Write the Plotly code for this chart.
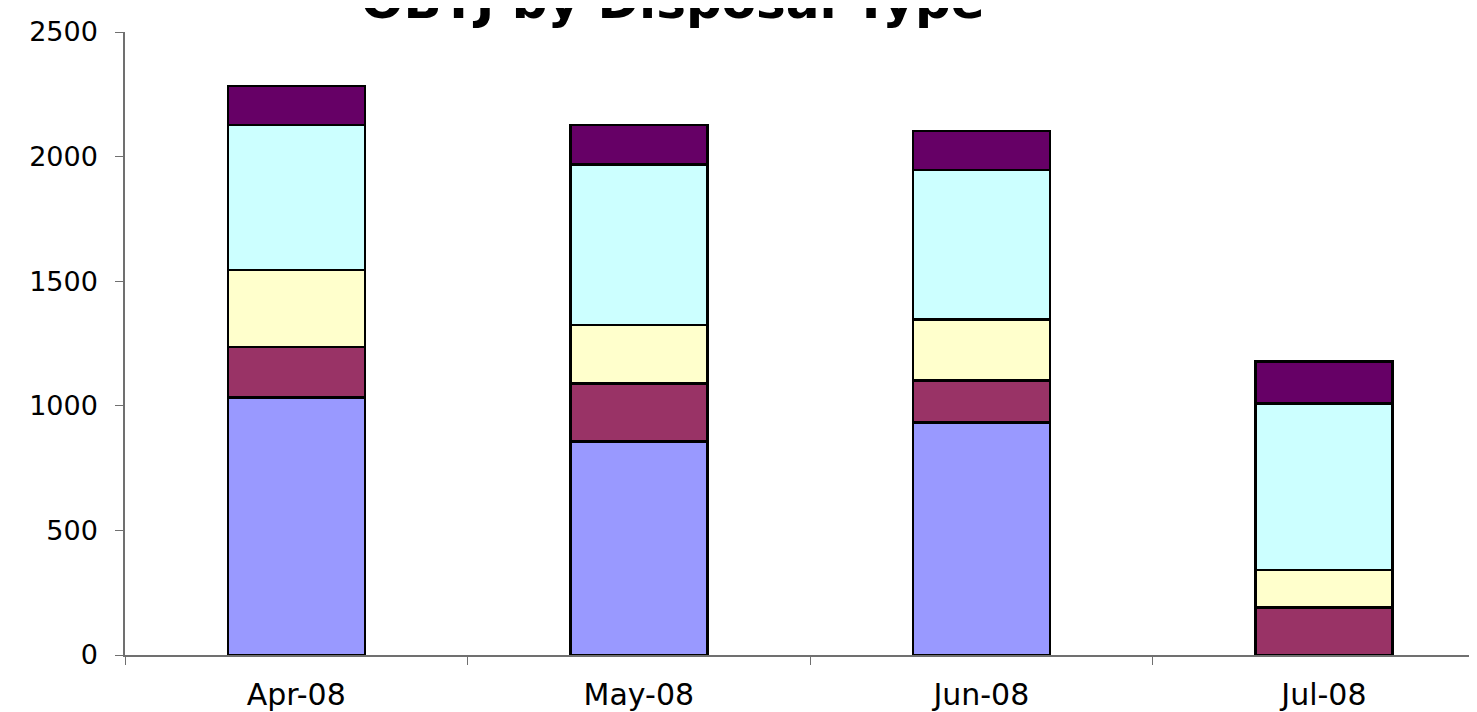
import plotly.graph_objects as go

months = ["Apr-08", "May-08", "Jun-08", "Jul-08"]
series_names = ["Charge/Summons", "Caution", "Taken Into Consideration",
                "Penalty Notice for Disorder", "Cannabis Warning"]
charge = [1034, 856, 933, 0]
caution = [201, 234, 169, 190]
tic = [310, 235, 245, 152]
pnd = [581, 643, 600, 668]
cannabis = [157, 158, 156, 168]
series_values = [charge, caution, tic, pnd, cannabis]
colors = ["#9999FF", "#993366", "#FFFFCC", "#CCFFFF", "#660066"]
y_ticks = [0, 500, 1000, 1500, 2000, 2500]
title_text = "OBTJ by Disposal Type"

fig = go.Figure()
for name, vals, col in zip(series_names, series_values, colors):
    fig.add_trace(go.Bar(
        x=months, y=vals, name=name,
        marker=dict(color=col, line=dict(color="black", width=2.5)),
        width=0.4,
    ))

fig.add_annotation(
    text="<b>" + title_text + "</b>",
    font=dict(family="DejaVu Sans", size=50, color="black"),
    xref="paper", x=(665 - 117) / (1469 - 117), xanchor="center",
    yref="paper", y=1, yanchor="middle", yshift=31,
    showarrow=False,
)

fig.update_layout(
    barmode="stack",
    width=1477, height=712,
    margin=dict(l=117, r=8, t=21, b=65),
    paper_bgcolor="white", plot_bgcolor="white",
    showlegend=False,
    xaxis=dict(
        range=[-0.5, 3.447], showgrid=False,
        showline=True, linecolor="#707070", linewidth=1.5,
        ticks="outside", tickson="boundaries", ticklen=8, tickcolor="#707070",
        tickfont=dict(family="DejaVu Sans", size=30, color="black"),
        ticklabelstandoff=12,
    ),
    yaxis=dict(
        range=[0, 2500], tickvals=y_ticks, showgrid=False, zeroline=False,
        showline=True, linecolor="#707070", linewidth=1.5,
        ticks="outside", ticklen=8, tickcolor="#707070",
        tickfont=dict(family="DejaVu Sans", size=27, color="black"),
        ticklabelstandoff=12,
    ),
)

fig.write_html("out.html")
